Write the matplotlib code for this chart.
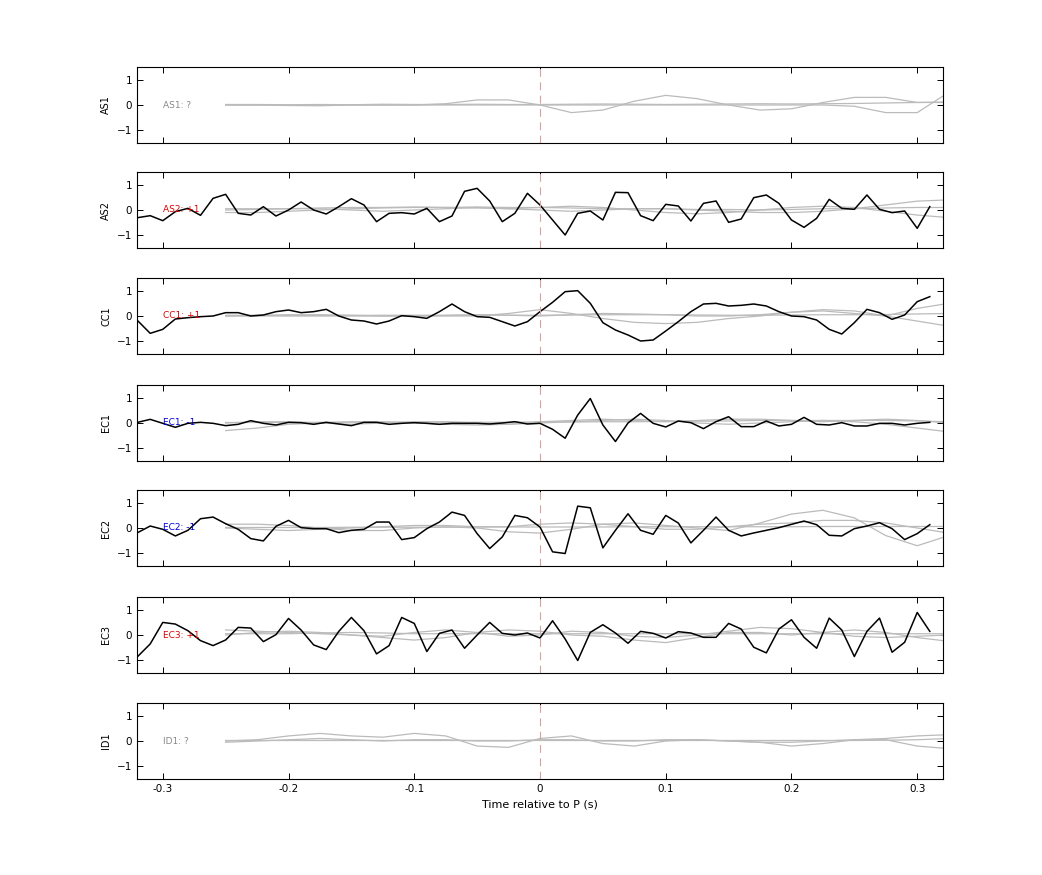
import numpy as np
import matplotlib
matplotlib.use("Agg")
import matplotlib.pyplot as plt

t_black = np.round(np.arange(-0.32, 0.315, 0.01), 3)
t_grey = np.round(np.arange(-0.25, 0.33, 0.025), 3)

stations = ["AS1", "AS2", "CC1", "EC1", "EC2", "EC3", "ID1"]
polarity = ["?", "+1", "+1", "-1", "-1", "+1", "?"]

def px(vals, zero, scale=76.0):
    return [(zero - v) / scale for v in vals]

as2 = px([143,137,152,125,115,136,85,73,130,135,110,138,120,96,120,132,110,86,105,155,130,128,132,115,155,138,64,55,93,155,130,70,105,
          150,195,130,123,150,67,68,137,152,103,108,153,100,93,157,147,83,75,100,150,172,145,88,115,118,75,118,128,123,175,110], 120)
cc1 = px([452,490,478,447,443,440,438,428,428,438,435,425,420,428,425,418,438,450,453,462,453,437,440,445,425,402,425,440,442,455,468,455,425,
          397,365,362,400,458,480,495,513,510,483,455,425,402,400,408,406,402,408,425,438,440,450,478,492,458,418,428,448,435,395,380], 438)
ec1 = px([122,113,125,137,125,122,125,132,128,117,125,130,122,123,128,122,127,132,122,122,128,125,123,125,128,125,125,125,127,124,120,127,125,
          143,170,100,50,130,180,124,95,125,136,118,123,141,120,105,135,135,118,133,128,107,128,130,123,133,133,125,125,130,125,122], 124, 76.5)
ec2 = px([457,437,447,467,450,415,410,430,447,475,482,438,420,442,445,445,457,450,447,425,425,478,472,445,425,395,405,460,505,470,405,412,440,
          515,520,377,382,503,450,400,450,462,405,428,488,450,410,450,467,458,450,442,432,422,433,465,467,445,437,427,445,478,460,433], 443, 76.5)
ec3 = px([198,160,95,100,120,150,165,148,110,112,153,132,83,118,163,177,122,80,120,190,165,80,98,183,128,118,173,133,95,128,133,127,142,
          90,145,210,125,102,127,158,122,128,142,123,127,140,140,98,115,170,187,115,87,140,173,82,118,198,122,82,185,155,65,122], 133, 76.5)
black = {"AS2": as2, "CC1": cc1, "EC1": ec1, "EC2": ec2, "EC3": ec3}

grey = {
 "AS1": [[0,0,-0.02,-0.03,0,0,0,0.05,0.2,0.2,0,-0.3,-0.2,0.15,0.38,0.25,0,-0.2,-0.15,0.1,0.3,0.3,0.1,0.1],
         [0,0,0,0,0,0,0,0,0,0,0,0,0,0,0,0,0,0,0,0,-0.05,-0.3,-0.3,0.5],
         [0.02,0.02,0.01,0.02,0.01,0.03,0.02,0.02,0.03,0.02,0.02,0.03,0.04,0.03,0.02,0.03,0.04,0.05,0.04,0.05,0.06,0.08,0.1,0.12]],
 "AS2": [[-0.1,-0.1,-0.05,0,0.05,0.08,0.1,0.1,0.08,0.05,0.1,0.15,0.1,0,-0.1,-0.15,-0.1,0,0.1,0.15,0.1,-0.05,-0.2,-0.3],
         [0,0.02,0.05,0.05,0,-0.05,0,0.05,0.1,0.05,0,-0.05,0,0.05,0.05,0,-0.05,-0.1,-0.1,-0.05,0.05,0.2,0.35,0.4],
         [0.05,0.05,0.05,0.08,0.1,0.1,0.12,0.1,0.12,0.1,0.1,0.08,0.05,0.05,0.05,0.02,0.02,0,0.02,0.05,0.05,0.08,0.1,0.1]],
 "CC1": [[0,0,0,0,0,0,0,0,0,0.1,0.25,0.1,-0.1,-0.25,-0.3,-0.25,-0.1,0,0.15,0.25,0.2,0,-0.2,-0.4],
         [0,0.02,0.05,0.05,0.03,0,0,0.02,0.05,0.03,0,0.05,0.1,0.08,0.05,0,0,0.05,0.15,0.2,0.1,0,0.3,0.5],
         [0.03,0.03,0.02,0.02,0.02,0.03,0.03,0.03,0.04,0.03,0.03,0.04,0.05,0.05,0.05,0.04,0.03,0.03,0.04,0.05,0.05,0.06,0.08,0.1]],
 "EC1": [[-0.3,-0.2,-0.05,0,0.05,0.05,0,-0.05,-0.08,-0.05,0.05,0.1,0.15,0.1,0.05,0.1,0.15,0.15,0.1,0.05,0.1,0.15,0.1,0],
         [0,0.05,0.05,0,-0.05,0,0.05,0.05,0,-0.05,0,0.05,0.1,0.15,0.1,0,-0.05,0,0.05,0.1,0.05,-0.05,-0.2,-0.35],
         [0.02,0.02,0.02,0.03,0.03,0.03,0.03,0.03,0.03,0.03,0.04,0.04,0.05,0.05,0.06,0.07,0.08,0.1,0.1,0.1,0.1,0.1,0.08,0.05]],
 "EC2": [[0.15,0.15,0.1,0,-0.1,-0.1,0,0.05,0,-0.15,-0.2,-0.05,0.15,0.2,0.1,0,-0.1,0.2,0.55,0.7,0.4,-0.3,-0.7,-0.3],
         [0,-0.05,-0.1,-0.05,0,0.05,0.1,0.1,0.05,0.05,0.15,0.2,0.15,0.05,-0.05,-0.05,0.05,0.15,0.2,0.3,0.3,0.2,0,-0.2],
         [0.02,0.02,0.02,0.02,0.03,0.03,0.03,0.03,0.04,0.04,0.04,0.04,0.04,0.05,0.05,0.05,0.05,0.05,0.05,0.06,0.06,0.06,0.06,0.06]],
 "EC3": [[0.2,0.15,0.1,0.05,0,-0.05,0.1,0.2,0.1,-0.05,0,0.15,0.1,-0.05,-0.1,0,0.15,0.3,0.25,0.1,-0.05,-0.1,-0.05,0],
         [0,0.1,0.15,0.1,0,-0.1,-0.2,-0.1,0.1,0.2,0.15,0,-0.05,-0.2,-0.3,-0.1,0.1,0.1,0,0.1,0.2,0.1,-0.1,-0.25],
         [0.05,0.05,0.05,0.08,0.1,0.08,0.05,0.05,0.05,0.05,0.05,0.05,0.05,0.05,0.05,0.05,0.05,0.05,0.05,0.05,0.05,0.05,0.05,0.05]],
 "ID1": [[0,0.05,0.2,0.3,0.2,0.15,0.3,0.2,-0.2,-0.25,0.1,0.2,-0.1,-0.2,0,0.05,0,-0.05,-0.2,-0.1,0.05,0.05,-0.2,-0.3],
         [-0.05,0,0.05,0.1,0.05,0,0.05,0.05,0,0,0.05,0.05,0,0,0.05,0.05,0,-0.05,-0.05,0,0.05,0.1,0.2,0.25],
         [0.02,0.02,0.02,0.02,0.02,0.02,0.02,0.02,0.02,0.02,0.02,0.02,0.02,0.02,0.02,0.02,0.02,0.02,0.02,0.02,0.02,0.03,0.05,0.1]],
}

label_colors = {"?": "#888888", "+1": "#dd0000", "-1": "#0000dd"}

fig = plt.figure(figsize=(10.42, 8.75), dpi=100)
left, width = 137/1042, (943-137)/1042
tops = [67, 172, 278, 385, 490, 597, 703]
h = 76
for i, st in enumerate(stations):
    ax = fig.add_axes([left, 1 - (tops[i] + h)/875, width, h/875])
    for g in grey[st]:
        ax.plot(t_grey, g, color="#bbbbbb", lw=0.9)
    if st in black:
        ax.plot(t_black, black[st], color="black", lw=1.1)
    ax.axvline(0, color="#d9a0a0", lw=0.8, ls=(0, (7, 5)))
    ax.set_xlim(-0.3205, 0.3205)
    ax.set_ylim(-1.5, 1.5)
    ax.set_yticks([-1, 0, 1])
    ax.set_xticks([-0.3, -0.2, -0.1, 0, 0.1, 0.2, 0.3])
    ax.tick_params(direction="in", top=True, right=True, labelsize=7.5, length=4, width=0.7)
    for s in ax.spines.values():
        s.set_linewidth(0.8)
    ax.set_ylabel(st, fontsize=7)
    ax.text(-0.3, 0, f"{st}: {polarity[i]}", color=label_colors[polarity[i]],
            fontsize=6.5, va="center", ha="left")
    if i < len(stations) - 1:
        ax.set_xticklabels([])
    else:
        ax.set_xticklabels(["-0.3", "-0.2", "-0.1", "0", "0.1", "0.2", "0.3"])
        ax.set_xlabel("Time relative to P (s)", fontsize=8)

fig.savefig("out.png", dpi=100)
